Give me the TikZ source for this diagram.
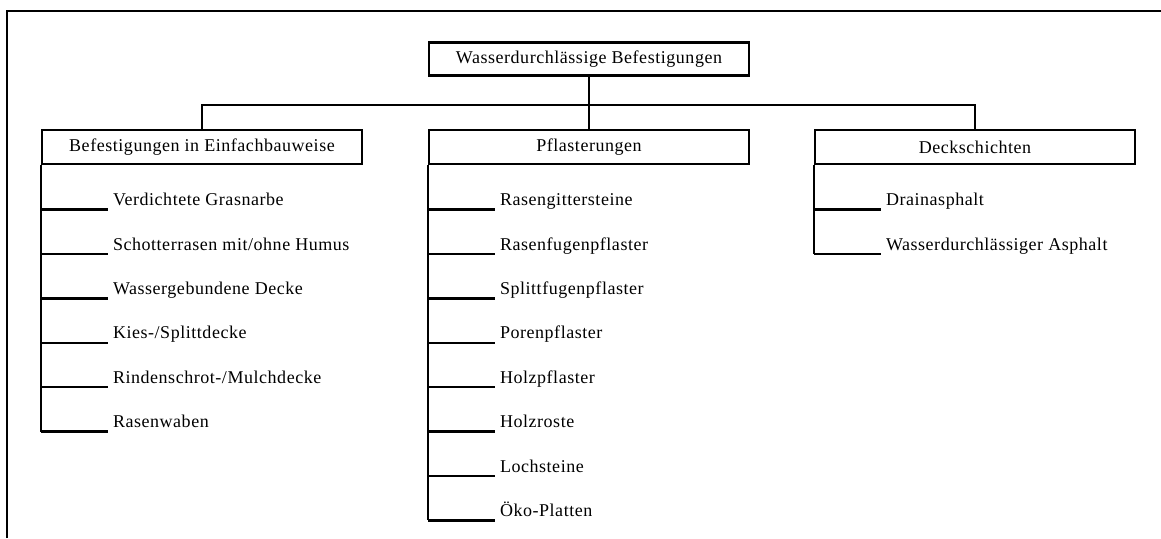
\documentclass[tikz,border=0pt]{standalone}
\usepackage{fontspec}
\setmainfont{Liberation Serif}[LetterSpace=3]
\usepackage{tikz}
\usetikzlibrary{positioning}

\begin{document}
\begin{tikzpicture}[x=1pt,y=-1pt,line width=2.4pt,
  font=\fontsize{18}{21}\selectfont,
  catbox/.style={draw,minimum width=320pt,minimum height=34pt,inner sep=0pt},
  itemtext/.style={anchor=base west,inner sep=0pt}]
\useasboundingbox (0,0) rectangle (1161,538);
% Rahmen (oben und links)
\draw (7,538) -- (7,11) -- (1161,11);
\node[catbox,minimum height=33pt] (root) at (589,59) {Wasserdurchlässige Befestigungen};
\node[catbox] (einfach) at (202,147) {Befestigungen in Einfachbauweise};
\node[catbox] (pflaster) at (589,147) {Pflasterungen};
\node[catbox] (deck) at (975,147) {Deckschichten};
\coordinate (bus) at (589,105);
\draw (root.south) -- (pflaster.north);
\draw (einfach.north) |- (bus) -| (deck.north);
% Befestigungen in Einfachbauweise
\foreach \txt [count=\i] in {Verdichtete Grasnarbe,Schotterrasen mit/ohne Humus,Wassergebundene Decke,Kies-/Splittdecke,Rindenschrot-/Mulchdecke,Rasenwaben}{
  \path (einfach.south west) ++(0,44.4*\i) coordinate (e\i);
  \draw (e\i) -- ++(67,0) coordinate (et\i);
  \node[itemtext] (en\i) at ([xshift=4pt,yshift=4pt]et\i) {\txt};
}
\draw (einfach.south west) -- (e6);
% Pflasterungen
\foreach \txt [count=\i] in {Rasengittersteine,Rasenfugenpflaster,Splittfugenpflaster,Porenpflaster,Holzpflaster,Holzroste,Lochsteine,Öko-Platten}{
  \path (pflaster.south west) ++(0,44.4*\i) coordinate (p\i);
  \draw (p\i) -- ++(67,0) coordinate (pt\i);
  \node[itemtext] (pn\i) at ([xshift=4pt,yshift=4pt]pt\i) {\txt};
}
\draw (pflaster.south west) -- (p8);
% Deckschichten
\foreach \txt [count=\i] in {Drainasphalt,Wasserdurchlässiger Asphalt}{
  \path (deck.south west) ++(0,44.4*\i) coordinate (d\i);
  \draw (d\i) -- ++(67,0) coordinate (dt\i);
  \node[itemtext] (dn\i) at ([xshift=4pt,yshift=4pt]dt\i) {\txt};
}
\draw (deck.south west) -- (d2);
\end{tikzpicture}
\end{document}
